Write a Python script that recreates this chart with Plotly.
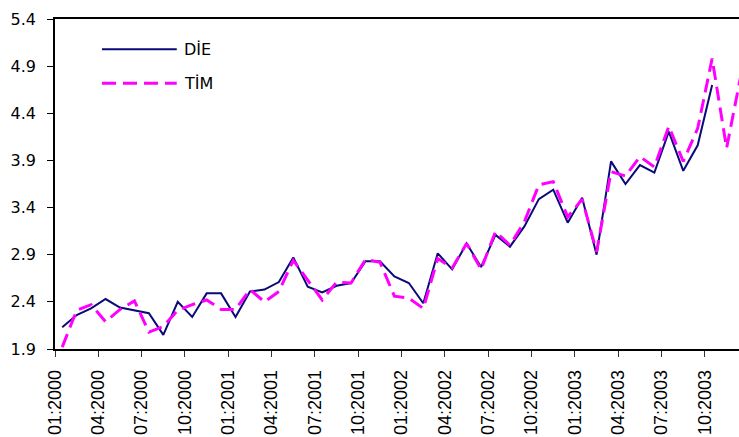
import plotly.graph_objects as go

# Monthly values, 01:2000 onward
die = [2.13, 2.26, 2.33, 2.43, 2.34, 2.31, 2.28, 2.05, 2.40, 2.24, 2.49, 2.49,
       2.24, 2.51, 2.53, 2.61, 2.87, 2.56, 2.50, 2.57, 2.60, 2.83, 2.83, 2.67,
       2.60, 2.385, 2.915, 2.745, 3.02, 2.77, 3.11, 2.985, 3.20, 3.49, 3.59, 3.24,
       3.505, 2.90, 3.89, 3.65, 3.85, 3.77, 4.205, 3.79, 4.06, 4.70]
tim = [1.92, 2.31, 2.37, 2.19, 2.32, 2.41, 2.08, 2.14, 2.31, 2.37, 2.42, 2.32,
       2.32, 2.53, 2.40, 2.51, 2.84, 2.63, 2.42, 2.61, 2.60, 2.85, 2.82, 2.46,
       2.44, 2.33, 2.86, 2.76, 3.02, 2.745, 3.145, 3.00, 3.25, 3.64, 3.675, 3.30,
       3.49, 2.93, 3.78, 3.735, 3.94, 3.83, 4.26, 3.89, 4.24, 4.98, 4.03, 4.81]

tick_labels = ["01:2000", "04:2000", "07:2000", "10:2000",
               "01:2001", "04:2001", "07:2001", "10:2001",
               "01:2002", "04:2002", "07:2002", "10:2002",
               "01:2003", "04:2003", "07:2003", "10:2003"]

series_names = ["D\u0130E", "T\u0130M"]

x_die = list(range(len(die)))
x_tim = list(range(len(tim)))
tick_vals = [3 * k - 0.5 for k in range(len(tick_labels))]

NAVY = "#0a0a78"
PINK = "#ff00ff"

fig = go.Figure()
fig.add_trace(go.Scatter(x=x_die, y=die, mode="lines", name=series_names[0],
                         line=dict(color=NAVY, width=2), showlegend=False))
fig.add_trace(go.Scatter(x=x_tim, y=tim, mode="lines", name=series_names[1],
                         line=dict(color=PINK, width=3, dash="14px,7px"),
                         showlegend=False))

# manual legend (long line samples)
leg = [(series_names[0], NAVY, "solid", 2, 0.908),
       (series_names[1], PINK, "14px,7px", 3, 0.805)]
for name, col, dash, w, yy in leg:
    fig.add_shape(type="line", xref="paper", yref="paper",
                  x0=0.0687, x1=0.178, y0=yy, y1=yy,
                  line=dict(color=col, width=w, dash=dash))
    fig.add_annotation(xref="paper", yref="paper", x=0.186, y=yy,
                       text=name, showarrow=False, xanchor="left", yanchor="middle",
                       font=dict(family="DejaVu Sans", size=16, color="black"))

fig.update_layout(
    width=739, height=437,
    margin=dict(l=55, r=0, t=19, b=88),
    plot_bgcolor="white", paper_bgcolor="white",
    showlegend=False,
)
fig.update_xaxes(
    range=[-0.5, 46.86], automargin=False,
    tickmode="array", tickvals=tick_vals, ticktext=tick_labels,
    tickangle=-90, ticks="outside", ticklen=6, tickcolor="#333333",
    showline=True, linecolor="black", linewidth=1.5, mirror=True,
    showgrid=False, zeroline=False,
    tickfont=dict(family="Liberation Sans", size=18, color="black"),
    ticklabelstandoff=6,
)
fig.update_yaxes(
    range=[1.9, 5.4], tick0=1.9, dtick=0.5, tickformat=".1f", automargin=False,
    ticks="outside", ticklen=6, tickcolor="black",
    showline=True, linecolor="black", linewidth=1.5,
    showgrid=False, zeroline=False,
    tickfont=dict(family="DejaVu Sans", size=16, color="black"),
    ticklabelstandoff=8,
)

# remove the page's default 8px body margin so the figure fills the window exactly
fig.write_html(
    "out.html",
    config={"displayModeBar": False},
    post_script="document.body.style.margin='0';"
                "document.documentElement.style.overflow='hidden';",
)
